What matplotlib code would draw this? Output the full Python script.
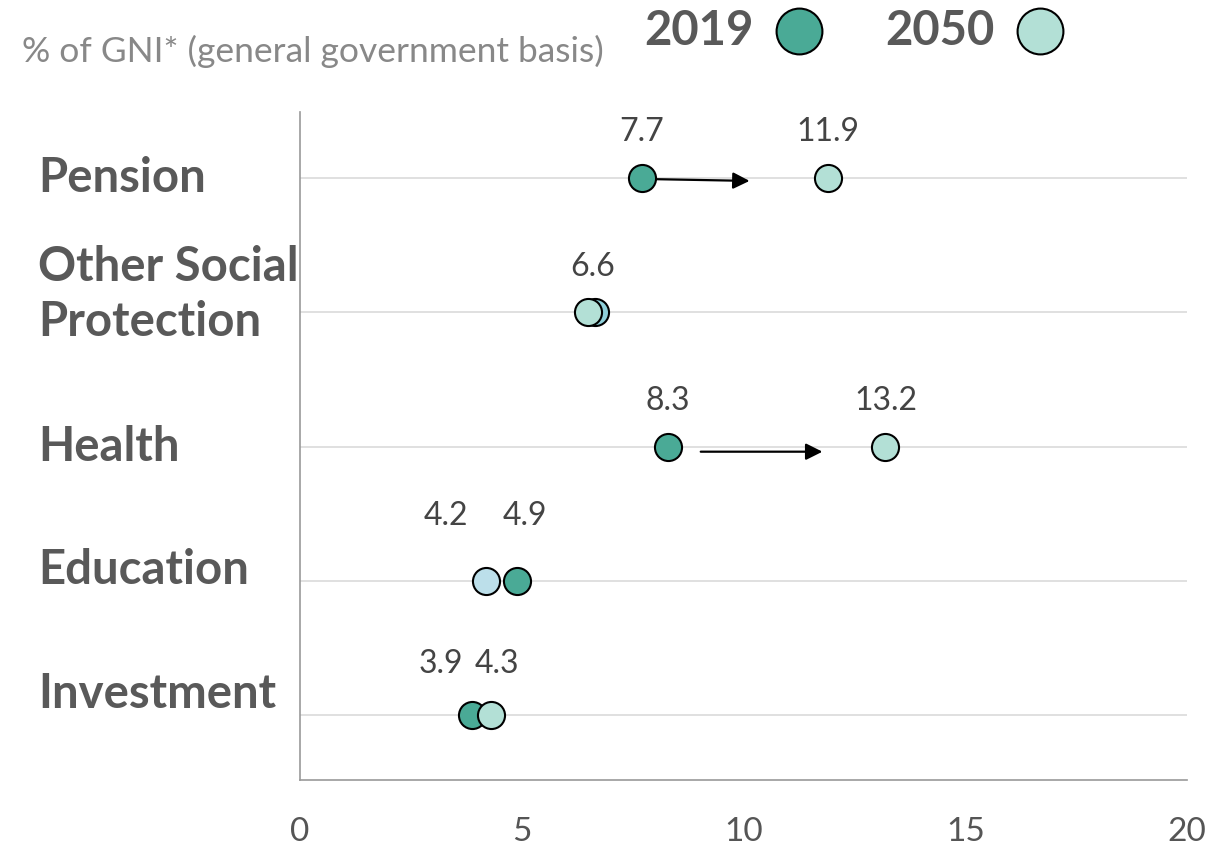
import matplotlib.pyplot as plt
from matplotlib.lines import Line2D

categories = ["Pension", "Other Social\nProtection", "Health", "Education", "Investment"]
values_2019 = [7.7, 6.65, 8.3, 4.9, 3.88]
values_2050 = [11.9, 6.5, 13.2, 4.2, 4.3]
label_2019 = ["7.7", "6.6", "8.3", "4.9", "3.9"]
label_2050 = ["11.9", "", "13.2", "4.2", "4.3"]
x_ticks = [0, 5, 10, 15, 20]

TEAL = "#4aaa96"
LIGHT = "#b3e0d6"
LIGHT_BLUE = "#bcdfea"
GREY_TXT = "#595959"

plt.rcParams["font.family"] = ["Lato", "DejaVu Sans"]

fig = plt.figure(figsize=(12.21, 8.49), dpi=100)
ax = fig.add_axes([0.2457, 0.0813, 0.7265, 0.7867])

n = len(categories)
ypos = [n - i for i in range(n)]

for y in ypos:
    ax.axhline(y, color="#dddddd", lw=1.3, zorder=1)

# colours per point: decreases drawn in light blue
c2019 = [TEAL, "#8ecfd9", TEAL, TEAL, TEAL]
c2050 = [LIGHT, LIGHT, LIGHT, LIGHT_BLUE, LIGHT]
z2019 = [4, 3, 4, 4, 3]
z2050 = [3, 4, 3, 3, 4]
for i, y in enumerate(ypos):
    ax.scatter(values_2019[i], y, s=380, color=c2019[i], edgecolor="black", lw=1.5, zorder=z2019[i])
    ax.scatter(values_2050[i], y, s=380, color=c2050[i], edgecolor="black", lw=1.5, zorder=z2050[i])

# value labels (pixel offsets to avoid overlap)
off_2019 = [(0, 46), (-2, 45), (0, 46), (8, 65), (-31, 51)]
off_2050 = [(0, 46), (0, 45), (0, 46), (-40, 65), (6, 51)]
for i, y in enumerate(ypos):
    for v, lab, off in ((values_2019[i], label_2019[i], off_2019[i]),
                        (values_2050[i], label_2050[i], off_2050[i])):
        if lab:
            ax.annotate(lab, (v, y), xytext=off, textcoords="offset pixels",
                        ha="center", va="center", fontsize=23, color="#444444")

# arrows for the big increases (fractions of the gap, small vertical drift in px)
px = 1 / 134.5
arrow_rows = [(0, 0.0, 0.58, 1, 3), (2, 0.15, 0.71, 5, 5)]
for i, f0, f1, dy0, dy1 in arrow_rows:
    a, b = values_2019[i], values_2050[i]
    ax.annotate("", xy=(a + f1 * (b - a), ypos[i] - dy1 * px),
                xytext=(a + f0 * (b - a), ypos[i] - dy0 * px),
                arrowprops=dict(arrowstyle="-|>", color="black", lw=1.6, mutation_scale=25,
                                shrinkA=0, shrinkB=0),
                zorder=2)

ax.set_xlim(0, 20)
ax.set_ylim(0.52, 5.49)
ax.set_xticks(x_ticks)
ax.set_xticklabels([str(t) for t in x_ticks], fontsize=24, color="#555555")
ax.tick_params(axis="x", length=0, pad=27)
ax.set_yticks([])
for s in ["top", "right"]:
    ax.spines[s].set_visible(False)
for s in ["left", "bottom"]:
    ax.spines[s].set_color("#999999")
    ax.spines[s].set_linewidth(1.2)

# category labels
lab_dy = [0.0, 0.13, 0.0, 0.08, 0.16]
for i, y in enumerate(ypos):
    ax.text(-0.295, y + lab_dy[i], categories[i], transform=ax.get_yaxis_transform(),
            ha="left", va="center", fontsize=34, fontweight="bold", color=GREY_TXT,
            linespacing=1.3)

fig.text(0.018, 0.94, "% of GNI* (general government basis)", fontsize=25.5,
         color="#888888", ha="left", va="center")

# legend
for txt, tx, cx, col in (("2019", 0.528, 0.654, TEAL), ("2050", 0.725, 0.852, LIGHT)):
    fig.text(tx, 0.963, txt, fontsize=34, fontweight="bold", color=GREY_TXT,
             ha="left", va="center")
    fig.add_artist(Line2D([cx], [0.963], marker="o", markersize=33, color=col,
                          markeredgecolor="black", markeredgewidth=1.5,
                          transform=fig.transFigure))

fig.savefig("out.png", dpi=100)
